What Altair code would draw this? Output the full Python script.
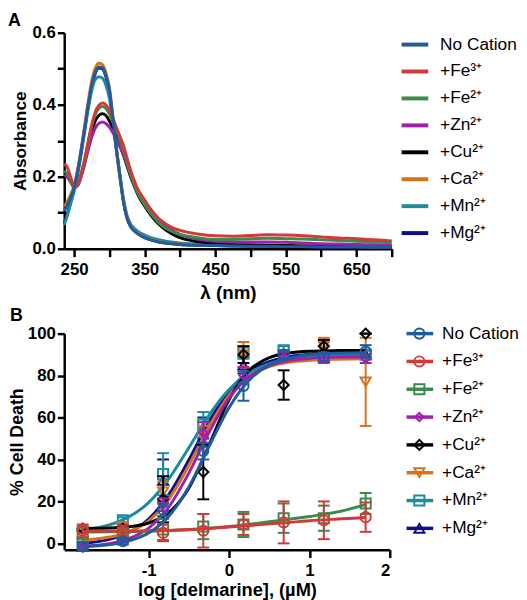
import altair as alt
import pandas as pd

# ---------------- shared series info ----------------
names = ["No Cation", "+Fe³⁺", "+Fe²⁺", "+Zn²⁺", "+Cu²⁺", "+Ca²⁺", "+Mn²⁺", "+Mg²⁺"]
colors = ["#1f5b9e", "#d23a37", "#3a8b4c", "#a21fae", "#000000", "#d7711a", "#1d8b9e", "#0e0e8c"]
shapes = ["circle", "circle", "square", "diamond", "diamond", "triangle-down", "square", "triangle-up"]

# ---------------- panel A: absorbance spectra ----------------
wavelength = [236, 240, 245, 250, 255, 260, 265, 270, 275, 280, 285, 290, 295, 300, 305, 310,
              315, 320, 325, 330, 335, 340, 350, 360, 370, 380, 390, 400, 425, 450, 475, 500,
              525, 550, 575, 600, 625, 650, 675, 700]
abs_no_cation = [0.105, 0.12, 0.142, 0.17, 0.215, 0.272, 0.335, 0.40, 0.455, 0.49,
                 0.505, 0.503, 0.48, 0.44, 0.36, 0.275, 0.2, 0.13, 0.085, 0.062,
                 0.05, 0.042, 0.031, 0.024, 0.019, 0.016, 0.014, 0.012, 0.01, 0.009,
                 0.008, 0.007, 0.007, 0.006, 0.006, 0.005, 0.005, 0.005, 0.004, 0.004]
abs_fe3 = [0.235, 0.228, 0.2, 0.175, 0.18, 0.21, 0.25, 0.30, 0.345, 0.38,
           0.398, 0.405, 0.40, 0.385, 0.362, 0.337, 0.312, 0.287, 0.252, 0.218,
           0.19, 0.167, 0.135, 0.106, 0.084, 0.069, 0.058, 0.051, 0.041, 0.036,
           0.035, 0.037, 0.039, 0.038, 0.036, 0.033, 0.03, 0.028, 0.025, 0.022]
abs_fe2 = [0.215, 0.21, 0.19, 0.172, 0.178, 0.205, 0.245, 0.295, 0.34, 0.373,
           0.39, 0.395, 0.39, 0.375, 0.352, 0.328, 0.302, 0.275, 0.24, 0.205,
           0.178, 0.155, 0.122, 0.094, 0.072, 0.057, 0.047, 0.04, 0.031, 0.026,
           0.026, 0.028, 0.029, 0.028, 0.027, 0.025, 0.023, 0.021, 0.019, 0.017]
abs_zn = [0.205, 0.2, 0.185, 0.17, 0.175, 0.2, 0.235, 0.275, 0.31, 0.335,
          0.348, 0.352, 0.348, 0.338, 0.322, 0.303, 0.283, 0.262, 0.235, 0.208,
          0.185, 0.163, 0.133, 0.105, 0.082, 0.064, 0.05, 0.04, 0.027, 0.021,
          0.019, 0.019, 0.019, 0.018, 0.016, 0.014, 0.013, 0.012, 0.011, 0.01]
abs_cu = [0.21, 0.205, 0.188, 0.172, 0.177, 0.203, 0.24, 0.285, 0.325, 0.355,
          0.37, 0.375, 0.37, 0.355, 0.335, 0.31, 0.285, 0.26, 0.23, 0.2,
          0.175, 0.152, 0.118, 0.09, 0.068, 0.052, 0.04, 0.031, 0.02, 0.015,
          0.012, 0.011, 0.01, 0.009, 0.008, 0.007, 0.007, 0.006, 0.006, 0.005]
abs_ca = [0.117, 0.13, 0.15, 0.176, 0.22, 0.278, 0.343, 0.41, 0.467, 0.502,
          0.515, 0.512, 0.49, 0.448, 0.368, 0.28, 0.202, 0.132, 0.087, 0.063,
          0.051, 0.043, 0.032, 0.025, 0.02, 0.017, 0.015, 0.013, 0.011, 0.01,
          0.009, 0.008, 0.008, 0.007, 0.007, 0.006, 0.006, 0.006, 0.005, 0.005]
abs_mn = [0.066, 0.09, 0.124, 0.16, 0.205, 0.262, 0.325, 0.388, 0.44, 0.47,
          0.478, 0.474, 0.455, 0.418, 0.35, 0.272, 0.202, 0.138, 0.093, 0.069,
          0.057, 0.049, 0.038, 0.03, 0.025, 0.021, 0.018, 0.016, 0.013, 0.011,
          0.01, 0.009, 0.009, 0.008, 0.008, 0.007, 0.007, 0.007, 0.006, 0.006]
abs_mg = [0.07, 0.095, 0.13, 0.168, 0.212, 0.27, 0.333, 0.398, 0.452, 0.487,
          0.502, 0.5, 0.478, 0.438, 0.358, 0.274, 0.2, 0.13, 0.085, 0.062,
          0.05, 0.042, 0.031, 0.024, 0.019, 0.016, 0.014, 0.012, 0.01, 0.009,
          0.008, 0.007, 0.007, 0.006, 0.006, 0.005, 0.005, 0.005, 0.004, 0.004]
absorbance = [abs_no_cation, abs_fe3, abs_fe2, abs_zn, abs_cu, abs_ca, abs_mn, abs_mg]

# ---------------- panel B: dose response ----------------
log_dose = [-1.82, -1.32, -0.82, -0.32, 0.18, 0.68, 1.18, 1.70]
death_no_cation = [-1.5, 1.0, 16, 44, 75, 90, 89, 91.5]
err_no_cation = [2, 1.5, 3, 4, 7, 2, 2, 3]
death_fe3 = [6, 5.5, 5, 6, 9, 10, 11, 12.5]
err_fe3 = [3, 3, 4, 8, 5, 10, 9, 7]
death_fe2 = [5, 5, 6.6, 8, 9, 12, 12, 19]
err_fe2 = [3, 2, 5, 6, 6, 7, 6, 5]
death_zn = [-2, 2, 18.4, 52.8, 80, 89, 88, 88]
err_zn = [1.5, 1.5, 3, 5, 4, 2, 2, 2]
death_cu = [7, 7, 21, 34, 90, 75.5, 94, 100]
err_cu = [1, 1.5, 11, 13, 4, 7, 3, 0]
death_ca = [4, 8, 24.5, 51, 90, 90, 94, 77]
err_ca = [2, 2, 5, 5, 6, 2, 4, 21]
death_mn = [0, 11, 33, 56.6, 91, 92, 89, 90]
err_mn = [2, 1.5, 10, 6, 3, 2, 2, 2]
death_mg = [-1.5, 4, 30, 55, 85, 90, 89, 90]
err_mg = [2, 2, 10, 5, 4, 2, 2, 2]
deaths = [death_no_cation, death_fe3, death_fe2, death_zn, death_cu, death_ca, death_mn, death_mg]
errors = [err_no_cation, err_fe3, err_fe2, err_zn, err_cu, err_ca, err_mn, err_mg]

# fitted curves
fit_x = [-1.82, -1.5, -1.25, -1.0, -0.75, -0.5, -0.25, 0.0, 0.25, 0.5, 0.75, 1.0, 1.35, 1.70]
fit_no_cation = [-1.6, -0.7, 1.1, 4.9, 12.9, 26.9, 46.1, 64.7, 77.8, 84.9, 88.3, 89.9, 90.7, 90.9]
fit_fe3 = [5.8, 5.9, 5.9, 6.0, 6.2, 6.6, 7.1, 7.8, 8.5, 9.3, 10.0, 10.8, 11.6, 12.3]
fit_fe2 = [5.4, 5.5, 5.6, 5.8, 6.1, 6.5, 7.2, 8.0, 9.1, 10.3, 11.5, 12.8, 15.0, 18.5]
fit_zn = [-1.4, -0.2, 2.2, 7.3, 17.3, 33.5, 52.8, 69.2, 79.4, 84.7, 87.1, 88.2, 88.8, 88.9]
fit_cu = [7.1, 7.3, 7.9, 9.7, 14.6, 26.3, 46.7, 68.5, 82.4, 88.5, 90.8, 91.6, 91.9, 92.0]
fit_ca = [1.6, 2.9, 5.4, 10.7, 21.0, 37.1, 55.5, 70.5, 79.7, 84.3, 86.4, 87.3, 87.8, 88.0]
fit_mn = [6.5, 8.7, 12.5, 19.4, 30.7, 45.6, 61.0, 73.3, 81.2, 85.6, 87.9, 89.0, 89.6, 89.9]
fit_mg = [0.0, 1.8, 5.1, 11.6, 23.2, 39.8, 58.0, 72.6, 81.8, 86.6, 89.0, 90.1, 90.7, 90.9]
fits = [fit_no_cation, fit_fe3, fit_fe2, fit_zn, fit_cu, fit_ca, fit_mn, fit_mg]

FONT = "Liberation Sans"
WA, HA = 332, 219
WB, HB = 330, 219
one = pd.DataFrame({"k": [0]})

# ---------------- panel A ----------------
xA = alt.X("wl:Q", scale=alt.Scale(domain=[236, 700], nice=False, zero=False),
           axis=alt.Axis(title="λ (nm)", values=list(range(250, 701, 50)),
                         labelExpr="datum.value % 100 == 50 ? datum.label : ''",
                         tickSize=8, labelPadding=5, titlePadding=6, titleFontSize=19))
yA = alt.Y("a:Q", scale=alt.Scale(domain=[0, 0.6], nice=False),
           axis=alt.Axis(title="Absorbance", values=[0, 0.1, 0.2, 0.3, 0.4, 0.5, 0.6],
                         labelExpr="round(datum.value * 10) % 2 == 0 ? format(datum.value, '.1f') : ''",
                         tickSize=7, labelPadding=2, titlePadding=3, titleFontSize=17.5))

layersA = []
for i in reversed(range(len(names))):
    df = pd.DataFrame({"wl": wavelength, "a": absorbance[i]})
    layersA.append(alt.Chart(df).mark_line(color=colors[i], strokeWidth=3, interpolate="monotone")
                   .encode(x=xA, y=yA))
for i, n in enumerate(names):
    yy = 12 + 27.3 * i
    layersA.append(alt.Chart(one).mark_rule(color=colors[i], strokeWidth=4)
                   .encode(x=alt.value(WA + 10), x2=alt.value(WA + 37), y=alt.value(yy)))
    layersA.append(alt.Chart(one).mark_text(align="left", baseline="middle", fontSize=17.5, font=FONT, color="black")
                   .encode(x=alt.value(WA + 49), y=alt.value(yy), text=alt.value(n)))
layersA.append(alt.Chart(one).mark_text(align="left", baseline="top", fontSize=18, fontWeight="bold", font=FONT, color="black")
               .encode(x=alt.value(-57), y=alt.value(-21), text=alt.value("A")))
panelA = alt.layer(*layersA).properties(width=WA, height=HA)

# ---------------- panel B ----------------
xB = alt.X("x:Q", scale=alt.Scale(domain=[-2.05, 2.0], nice=False, zero=False),
           axis=alt.Axis(title="log [delmarine], (µM)", values=[-1, 0, 1, 2],
                         labelExpr="'' + datum.value", tickSize=8, labelPadding=5,
                         titlePadding=2, titleFontSize=18.5))
yB = alt.Y("y:Q", scale=alt.Scale(domain=[-3, 100], nice=False, zero=False),
           axis=alt.Axis(title="% Cell Death", values=[0, 20, 40, 60, 80, 100],
                         tickSize=7, labelPadding=2, titlePadding=1, titleFontSize=18))

layersB = []
for i in reversed(range(len(names))):
    dfc = pd.DataFrame({"x": fit_x, "y": fits[i]})
    layersB.append(alt.Chart(dfc).mark_line(color=colors[i], strokeWidth=3, interpolate="monotone")
                   .encode(x=xB, y=yB))
    m, e = deaths[i], errors[i]
    dfp = pd.DataFrame({"x": log_dose, "y": m,
                        "lo": [a - b for a, b in zip(m, e)],
                        "hi": [a + b for a, b in zip(m, e)]})
    base = alt.Chart(dfp)
    layersB.append(base.mark_rule(color=colors[i], strokeWidth=2)
                   .encode(x=xB, y=alt.Y("lo:Q"), y2="hi:Q"))
    layersB.append(base.mark_tick(color=colors[i], orient="horizontal", size=12, thickness=2, opacity=1)
                   .encode(x=xB, y=alt.Y("lo:Q")))
    layersB.append(base.mark_tick(color=colors[i], orient="horizontal", size=12, thickness=2, opacity=1)
                   .encode(x=xB, y=alt.Y("hi:Q")))
    layersB.append(base.mark_point(color=colors[i], shape=shapes[i], filled=False, opacity=1,
                                   strokeWidth=2, size=70 if i == 3 else 105)
                   .encode(x=xB, y=yB))
for i, n in enumerate(names):
    yy = 28.2 * i
    layersB.append(alt.Chart(one).mark_rule(color=colors[i], strokeWidth=3.5)
                   .encode(x=alt.value(WB + 17), x2=alt.value(WB + 44), y=alt.value(yy)))
    layersB.append(alt.Chart(one).mark_point(color=colors[i], shape=shapes[i], filled=False, opacity=1,
                                             strokeWidth=2, size=70 if i == 3 else 105)
                   .encode(x=alt.value(WB + 30), y=alt.value(yy)))
    layersB.append(alt.Chart(one).mark_text(align="left", baseline="middle", fontSize=17.5, font=FONT, color="black")
                   .encode(x=alt.value(WB + 53), y=alt.value(yy), text=alt.value(n)))
layersB.append(alt.Chart(one).mark_text(align="left", baseline="top", fontSize=18, fontWeight="bold", font=FONT, color="black")
               .encode(x=alt.value(-55), y=alt.value(-27), text=alt.value("B")))
panelB = alt.layer(*layersB).properties(width=WB, height=HB)

chart = (
    alt.vconcat(panelA, panelB, spacing=5)
    .properties(padding={"left": 0, "top": 0, "right": 0, "bottom": 0}, background="white")
    .configure_view(stroke=None)
    .configure_axis(grid=False, domainColor="black", domainWidth=2.5, tickColor="black",
                    tickWidth=2.5, labelFont=FONT, labelFontSize=17,
                    labelFontWeight="bold", labelColor="black",
                    titleFont=FONT, titleFontWeight="bold", titleColor="black")
)
chart.save("out.html", embed_options={"renderer": "svg", "actions": False})
